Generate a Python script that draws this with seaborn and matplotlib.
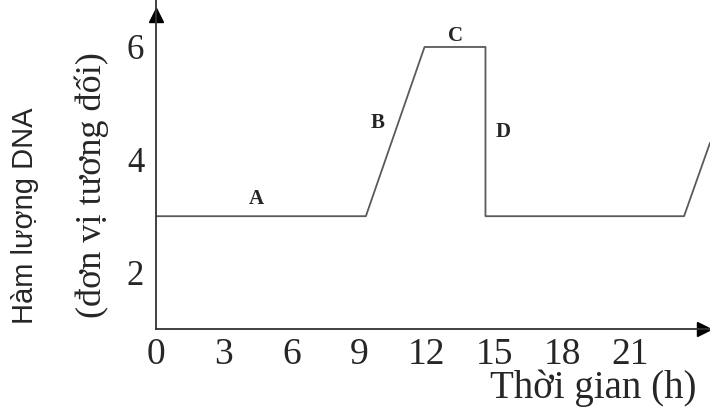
import matplotlib
matplotlib.use("Agg")
import matplotlib.pyplot as plt
import seaborn as sns

# --- du lieu: ham luong DNA theo thoi gian ---
thoi_gian = [0, 9.3, 11.9, 14.6, 14.6, 23.4, 24.55]
ham_luong = [3, 3, 6, 6, 3, 3, 4.3]

x_ticks = [0, 3, 6, 9, 12, 15, 18, 21]
y_ticks = [2, 3, 4, 5, 6]
y_tick_labels = ["2", "", "4", "", "6"]

# nhan cac giai doan
pha_ten = ["A", "B", "C", "D"]
pha_x = [4.43, 9.8, 13.25, 15.4]
pha_y = [3.3, 4.65, 6.2, 4.49]

sns.set_style("white")
plt.rcParams["font.family"] = ["Liberation Serif", "DejaVu Serif"]

fig = plt.figure(figsize=(7.1, 4.12), dpi=100)
ax = fig.add_axes([156 / 710, 83 / 412, 554 / 710, 329 / 412])

sns.lineplot(x=thoi_gian, y=ham_luong, ax=ax, sort=False, estimator=None,
             color="#5a5a5a", linewidth=1.3)

ax.set_xlim(0, 24.55)
ax.set_ylim(1, 6.833)

for s in ["top", "right"]:
    ax.spines[s].set_visible(False)
for s in ["left", "bottom"]:
    ax.spines[s].set_color("#333333")
    ax.spines[s].set_linewidth(1.3)

# mui ten o cuoi truc
ax.plot(24.3, 1, ">", color="black", ms=10, clip_on=False)
ax.plot(0, 6.56, "^", color="black", ms=10, clip_on=False)

ax.set_xticks(x_ticks)
ax.set_xticklabels([str(v) for v in x_ticks], fontsize=27)
ax.set_yticks(y_ticks)
ax.set_yticklabels(y_tick_labels, fontsize=25)
ax.tick_params(axis="x", direction="inout", length=8, width=1, color="#444444", pad=2)
ax.tick_params(axis="y", direction="inout", length=11, width=1, color="#444444", pad=3)

for t, xx, yy in zip(pha_ten, pha_x, pha_y):
    ax.text(xx, yy, t, fontsize=15, fontweight="bold", ha="center", va="center")

ax.set_xlabel("")
ax.set_ylabel("")

fig.text(697 / 710, 1 - 398 / 412, "Thời gian (h)", fontsize=28,
         ha="right", va="baseline")
fig.text(25 / 710, 1 - 216 / 412, "Hàm lượng DNA", rotation=90, fontsize=21,
         family=["Liberation Sans", "DejaVu Sans"], ha="center", va="center")
fig.text(92 / 710, 1 - 185 / 412, "(đơn vị tương đối)", rotation=90, fontsize=26,
         ha="center", va="center")

fig.savefig("out.png", dpi=100)
